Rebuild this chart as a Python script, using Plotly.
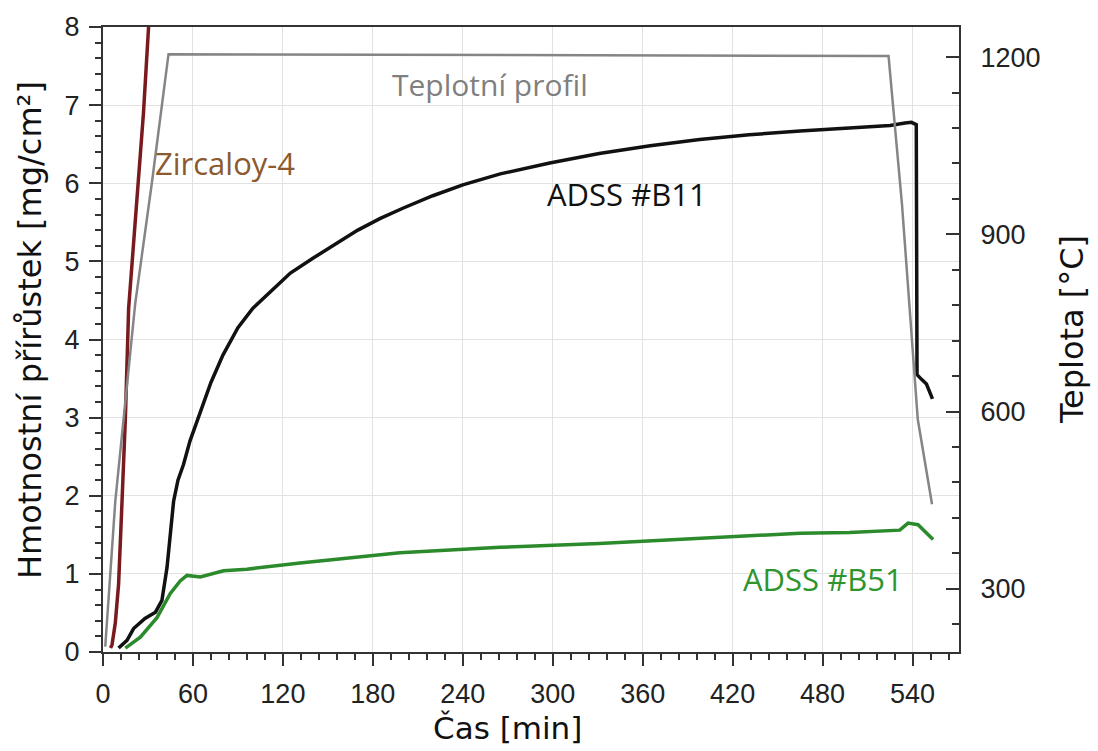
import plotly.graph_objects as go

# ---- data ----
temp_t = [1.5, 8.2, 21.5, 32.7, 43.7, 524, 533, 540.2, 543.5, 553]
temp_c = [202, 448, 783, 989, 1205, 1202, 950, 699, 587, 443]

zr_t = [5, 6, 8.2, 10.4, 12.7, 14.9, 17.1, 20, 23.5, 27, 30.4]
zr_m = [0.05, 0.09, 0.37, 0.87, 1.93, 2.98, 4.4, 5.1, 5.95, 6.9, 8.0]

b11_t = [10.4, 16, 20.4, 28, 35, 39.3, 42.7, 45, 47.1, 50, 53.7, 58, 65, 72, 80, 90, 100,
         112, 125, 140, 155, 170, 185, 200, 220, 240, 265, 298, 331, 365, 398, 431, 465,
         498, 525, 535, 539.3, 542.5, 543, 546, 549.3, 553.3]
b11_m = [0.05, 0.15, 0.30, 0.43, 0.51, 0.66, 1.08, 1.5, 1.93, 2.2, 2.4, 2.7, 3.07, 3.45,
         3.8, 4.15, 4.4, 4.62, 4.85, 5.04, 5.22, 5.4, 5.55, 5.68, 5.84, 5.98, 6.12, 6.26,
         6.38, 6.48, 6.56, 6.62, 6.67, 6.71, 6.74, 6.77, 6.78, 6.75, 3.55, 3.49, 3.43, 3.24]

b51_t = [14.9, 24.9, 36, 44.9, 51.5, 56, 64.9, 80.4, 96, 125, 131.5, 198, 265, 331, 398,
         465, 498, 531.5, 537, 543.7, 553.7]
b51_m = [0.05, 0.19, 0.44, 0.75, 0.91, 0.98, 0.96, 1.04, 1.06, 1.13, 1.14, 1.27, 1.34,
         1.39, 1.46, 1.52, 1.53, 1.56, 1.65, 1.63, 1.44]

x_ticks = [0, 60, 120, 180, 240, 300, 360, 420, 480, 540]
y_ticks = [0, 1, 2, 3, 4, 5, 6, 7, 8]
y2_ticks = [300, 600, 900, 1200]

labels = {
    "zr": "Zircaloy-4",
    "prof": "Teplotní profil",
    "b11": "ADSS #B11",
    "b51": "ADSS #B51",
}

fig = go.Figure()
fig.add_trace(go.Scatter(x=temp_t, y=temp_c, yaxis="y2", mode="lines",
                         line=dict(color="#858585", width=2.5), showlegend=False))
fig.add_trace(go.Scatter(x=b51_t, y=b51_m, mode="lines",
                         line=dict(color="#2b8a2b", width=3.5), showlegend=False))
fig.add_trace(go.Scatter(x=b11_t, y=b11_m, mode="lines",
                         line=dict(color="#111111", width=3.5), showlegend=False))
fig.add_trace(go.Scatter(x=zr_t, y=zr_m, mode="lines",
                         line=dict(color="#7a1a1f", width=3.5), showlegend=False))

axis_color = "#333333"
tickfont = dict(family="Liberation Sans, Arial, sans-serif", size=27, color="#222222")
title_font = dict(family="DejaVu Sans, sans-serif", size=32, color="#111111")
ann_font = "Open Sans, Lato, sans-serif"

fig.update_layout(
    width=1098, height=751,
    margin=dict(l=103, r=139, t=21, b=99),
    paper_bgcolor="white", plot_bgcolor="white",
    xaxis=dict(range=[0, 571], tickvals=x_ticks, showline=True, linecolor=axis_color,
               linewidth=2, mirror=True, ticks="outside", ticklen=12, tickwidth=2,
               tickcolor=axis_color, tickfont=tickfont, showgrid=True,
               gridcolor="#e2e2e2", gridwidth=1, zeroline=False,
               ticklabelstandoff=5,
               minor=dict(dtick=12, tick0=0, ticks="outside", ticklen=6, tickwidth=2,
                          tickcolor=axis_color, showgrid=False)),
    yaxis=dict(range=[0, 8], tickvals=y_ticks, showline=True, linecolor=axis_color,
               linewidth=2, ticks="outside", ticklen=12, tickwidth=2,
               tickcolor=axis_color, tickfont=tickfont, showgrid=True,
               gridcolor="#e2e2e2", gridwidth=1, zeroline=False,
               ticklabelstandoff=4,
               minor=dict(dtick=0.2, tick0=0, ticks="outside", ticklen=6, tickwidth=2,
                          tickcolor=axis_color, showgrid=False)),
    yaxis2=dict(range=[193, 1251], tickvals=y2_ticks, overlaying="y", side="right",
                showline=True, linecolor=axis_color, linewidth=2, ticks="inside",
                ticklen=13, tickwidth=2, tickcolor=axis_color, tickfont=tickfont,
                showgrid=False, zeroline=False, ticklabelstandoff=14,
                minor=dict(dtick=60, tick0=0, ticks="inside", ticklen=7, tickwidth=2,
                           tickcolor=axis_color, showgrid=False)),
)

annotations = [
    dict(x=33.5, y=6.26, xref="x", yref="y", text=labels["zr"], showarrow=False,
         xanchor="left", yanchor="middle", font=dict(family=ann_font, size=31, color="#8c5a2e")),
    dict(x=191.5, y=7.27, xref="x", yref="y", text=labels["prof"], showarrow=False,
         xanchor="left", yanchor="middle", font=dict(family=ann_font, size=30, color="#7f7f7f")),
    dict(x=295, y=5.86, xref="x", yref="y", text=labels["b11"], showarrow=False,
         xanchor="left", yanchor="middle", font=dict(family=ann_font, size=31, color="#111111")),
    dict(x=535, y=0.94, xref="x", yref="y", text=labels["b51"], showarrow=False,
         xanchor="right", yanchor="middle", font=dict(family=ann_font, size=31, color="#2e952e")),
    dict(x=-0.0853, y=0.515, xref="paper", yref="paper",
         text="Hmotnostní přírůstek [mg/cm²]", textangle=-90, showarrow=False,
         xanchor="center", yanchor="middle", font=title_font),
    dict(x=1.132, y=0.5166, xref="paper", yref="paper", text="Teplota [°C]",
         textangle=-90, showarrow=False, xanchor="center", yanchor="middle", font=title_font),
    dict(x=0.473, y=-0.121, xref="paper", yref="paper", text="Čas [min]",
         showarrow=False, xanchor="center", yanchor="middle",
         font=dict(family="DejaVu Sans, sans-serif", size=31, color="#111111")),
]
fig.update_layout(annotations=annotations)

fig.write_html("out.html")
